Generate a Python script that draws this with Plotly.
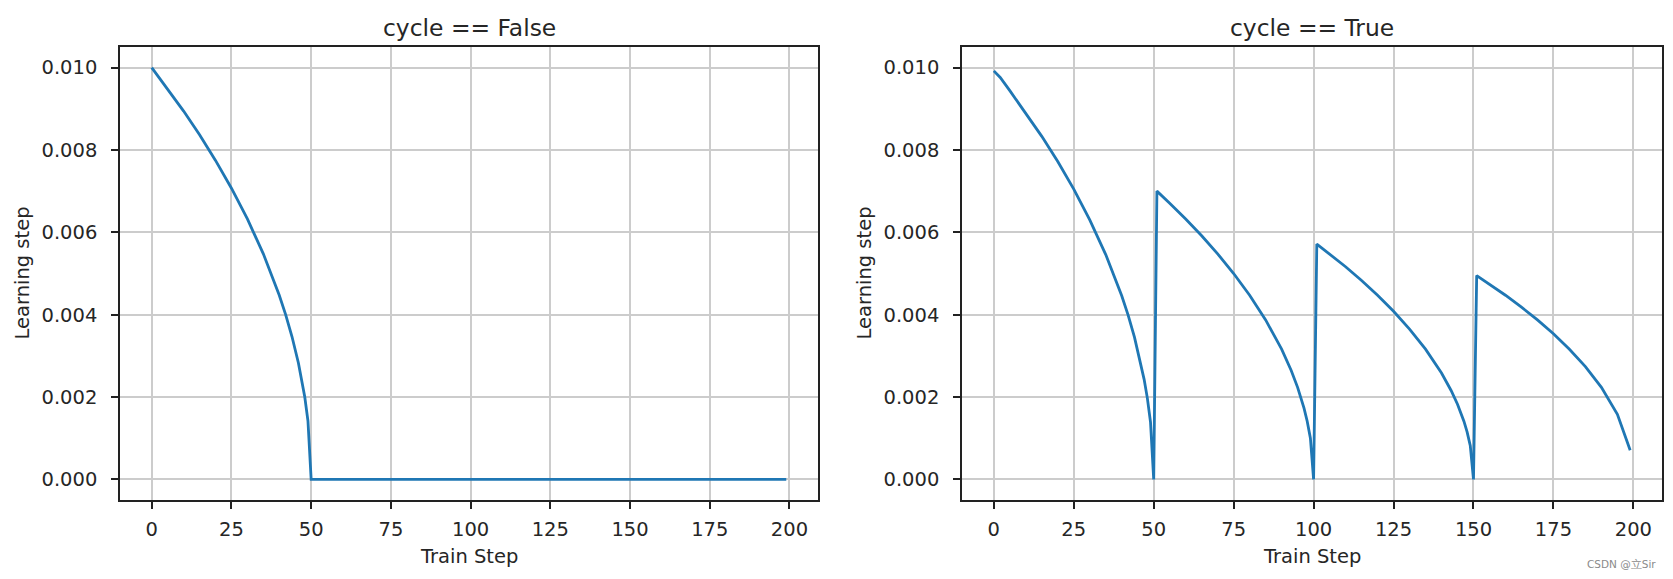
import plotly.graph_objects as go

# ---- data ----
steps_false = [0, 5, 10, 15, 20, 25, 30, 35, 40, 42, 44, 46, 47, 48, 49, 50, 199]
lr_false = [0.010000, 0.009487, 0.008944, 0.008367, 0.007746, 0.007071, 0.006325,
            0.005477, 0.004472, 0.004000, 0.003464, 0.002828, 0.002449, 0.002000,
            0.001414, 0.0, 0.0]

steps_true = [0, 2, 5, 10, 15, 20, 25, 30, 35, 40, 42, 44, 46, 47, 48, 49, 50,
              51, 55, 60, 65, 70, 75, 80, 85, 90, 93, 95, 97, 98, 99, 100,
              101, 105, 110, 115, 120, 125, 130, 135, 140, 143, 145, 147, 148, 149, 150,
              151, 155, 160, 165, 170, 175, 180, 185, 190, 195, 199]
lr_true = [0.009920, 0.009760, 0.009440, 0.008900, 0.008330, 0.007720, 0.007050,
           0.006300, 0.005460, 0.004460, 0.003990, 0.003450, 0.002810, 0.002430,
           0.001980, 0.001390, 0.0,
           0.007000, 0.006708, 0.006325, 0.005916, 0.005477, 0.005000, 0.004472,
           0.003873, 0.003162, 0.002646, 0.002236, 0.001732, 0.001414, 0.001000, 0.0,
           0.005715, 0.005477, 0.005164, 0.004830, 0.004472, 0.004082, 0.003651,
           0.003162, 0.002582, 0.002160, 0.001826, 0.001414, 0.001155, 0.000816, 0.0,
           0.004950, 0.004743, 0.004472, 0.004183, 0.003873, 0.003536, 0.003162,
           0.002739, 0.002236, 0.001581, 0.000707]

titles = ["cycle == False", "cycle == True"]
x_label = "Train Step"
y_label = "Learning step"
x_ticks = [0, 25, 50, 75, 100, 125, 150, 175, 200]
y_ticks = [0.000, 0.002, 0.004, 0.006, 0.008, 0.010]
watermark = "CSDN @立Sir"

W, H = 1673, 579
OFF = 8  # page body margin offset
FONT = "DejaVu Sans"
TXT = "#262626"
LINE = "#1f77b4"

# axes pixel boxes in page coords (left, right, top, bottom)
boxes = [(120, 818, 47, 500), (962, 1662, 47, 500)]


def px(x):
    return (x - OFF) / W


def py(y):
    return (H - (y - OFF)) / H


fig = go.Figure()
fig.add_trace(go.Scatter(x=steps_false, y=lr_false, mode="lines",
                         line=dict(color=LINE, width=2.8), xaxis="x", yaxis="y",
                         showlegend=False))
fig.add_trace(go.Scatter(x=steps_true, y=lr_true, mode="lines",
                         line=dict(color=LINE, width=2.8), xaxis="x2", yaxis="y2",
                         showlegend=False))

axis_common = dict(showline=True, linecolor="#222222", linewidth=1.6, mirror=True,
                   showgrid=True, gridcolor="#cccccc", gridwidth=1.5,
                   ticks="outside", ticklen=7, tickwidth=1.5, tickcolor="#222222",
                   tickfont=dict(family=FONT, size=19.5, color=TXT),
                   zeroline=False, automargin=False)

annotations = []
for i, (l, r, t, b) in enumerate(boxes):
    sx = "" if i == 0 else str(i + 1)
    xd = [px(l), px(r)]
    yd = [py(b), py(t)]
    fig.update_layout(**{
        f"xaxis{sx}": dict(domain=xd, range=[-9.95, 208.95], tickvals=x_ticks,
                           anchor=f"y{sx}", ticklabelstandoff=4, **axis_common),
        f"yaxis{sx}": dict(domain=yd, range=[-0.0005, 0.0105], tickvals=y_ticks,
                           tickformat=".3f", anchor=f"x{sx}", ticklabelstandoff=10,
                           **axis_common),
    })
    cx = px((l + r) / 2)
    annotations.append(dict(text=titles[i], x=cx, y=py(28), xref="paper", yref="paper",
                            showarrow=False, xanchor="center", yanchor="middle",
                            font=dict(family=FONT, size=23.4, color=TXT)))
    annotations.append(dict(text=x_label, x=cx, y=py(556), xref="paper", yref="paper",
                            showarrow=False, xanchor="center", yanchor="middle",
                            font=dict(family=FONT, size=19.5, color=TXT)))
    annotations.append(dict(text=y_label, x=px(l - 98), y=py((t + b) / 2),
                            xref="paper", yref="paper", textangle=-90,
                            showarrow=False, xanchor="center", yanchor="middle",
                            font=dict(family=FONT, size=19.5, color=TXT)))

annotations.append(dict(text=watermark, x=px(1658), y=py(564), xref="paper", yref="paper",
                        showarrow=False, xanchor="right", yanchor="middle",
                        font=dict(family=FONT, size=10.5, color="#8a8a8a")))

fig.update_layout(width=W, height=H, margin=dict(l=0, r=0, t=0, b=0),
                  paper_bgcolor="white", plot_bgcolor="white",
                  annotations=annotations, showlegend=False)

fig.write_html("out.html")
